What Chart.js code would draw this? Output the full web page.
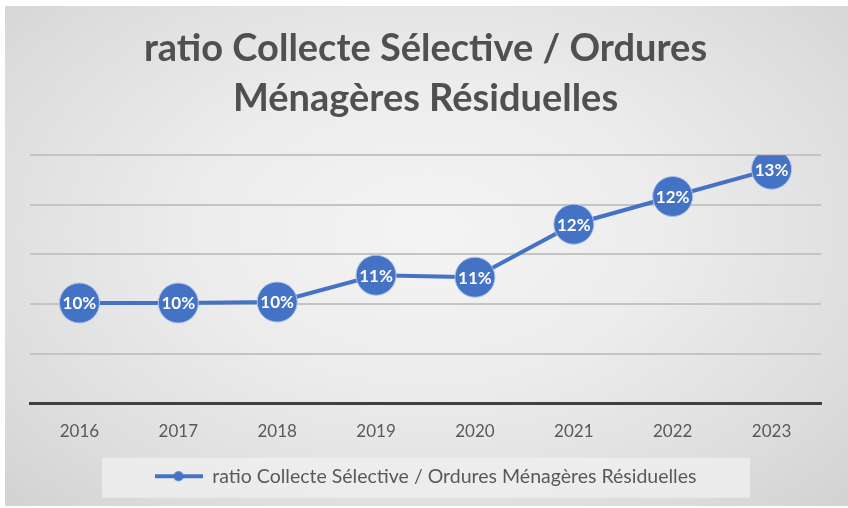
<!DOCTYPE html>
<html>
<head>
<meta charset="utf-8">
<script src="https://cdn.jsdelivr.net/npm/chart.js@4"></script>
<style>
	html, body { margin: 0; padding: 0; background: #ffffff; }
	#wrap {
		position: absolute;
		left: 5px;
		top: 6px;
		width: 843px;
		height: 500px;
		background: radial-gradient(ellipse at 50% 45%, #f4f4f4 0%, #ececec 40%, #dcdcdc 80%, #d2d2d2 100%);
	}
</style>
</head>
<body>
<div id="wrap"><canvas id="ratioChart"></canvas></div>
<script>
// Values (percent)
const years  = ['2016', '2017', '2018', '2019', '2020', '2021', '2022', '2023'];
const ratios = [10.02, 10.02, 10.04, 10.58, 10.54, 11.61, 12.17, 12.72];
const seriesName = 'ratio Collecte Sélective / Ordures Ménagères Résiduelles';
const titleLines = ['ratio Collecte Sélective / Ordures', 'Ménagères Résiduelles'];

const blue = '#4472C4';
const fontName = 'Lato, "Open Sans", sans-serif';
const legendSize = 19.5;

// Excel style legend marker: a line with a dot in the middle
function legendMarker() {
	let c = document.createElement('canvas');
	c.width = 48;
	c.height = 12;
	let ctx = c.getContext('2d');
	ctx.strokeStyle = blue;
	ctx.lineWidth = 4;
	ctx.beginPath();
	ctx.moveTo(0, 6);
	ctx.lineTo(48, 6);
	ctx.stroke();
	ctx.fillStyle = blue;
	ctx.beginPath();
	ctx.arc(24, 6, 5, 0, Math.PI * 2);
	ctx.fill();
	return c;
}

// Draw a light box behind the legend
const legendBox = {
	id: 'legendBox',
	beforeDraw(chart) {
		let lg = chart.legend;
		if (!lg) return;
		let ctx = chart.ctx;
		let cy = lg.bottom - 10 - legendSize / 2 + 1.5;
		ctx.save();
		ctx.fillStyle = 'rgba(240,240,240,0.75)';
		ctx.fillRect(97, cy - 20, 648, 40);
		ctx.restore();
	}
};

// Percent labels inside the markers
const pointLabels = {
	id: 'pointLabels',
	afterDatasetsDraw(chart) {
		let ctx = chart.ctx;
		let meta = chart.getDatasetMeta(0);
		ctx.save();
		ctx.fillStyle = '#ffffff';
		ctx.font = 'bold 17px ' + fontName;
		ctx.textAlign = 'center';
		ctx.textBaseline = 'middle';
		meta.data.forEach((pt, i) => {
			ctx.fillText(Math.round(ratios[i]) + '%', pt.x, pt.y + 1);
		});
		ctx.restore();
	}
};

let ctx = document.getElementById('ratioChart');
let chart = new Chart(ctx, {
	type: 'line',
	data: {
		labels: years,
		datasets: [{
			label: seriesName,
			data: ratios,
			borderColor: blue,
			borderWidth: 4,
			pointRadius: 20,
			pointHoverRadius: 20,
			pointBackgroundColor: blue,
			pointBorderColor: '#a9c2ea',
			pointBorderWidth: 1,
			tension: 0,
		}],
	},
	options: {
		maintainAspectRatio: false,
		responsive: true,
		animation: false,
		layout: {
			padding: { left: 25, right: 27, top: 14, bottom: 10 },
		},
		plugins: {
			tooltip: { enabled: false },
			title: {
				display: true,
				text: titleLines,
				color: '#505050',
				font: { family: fontName, size: 38, weight: 'bold', lineHeight: 1.32 },
				padding: { top: 4, bottom: 31 },
			},
			legend: {
				position: 'bottom',
				labels: {
					color: '#595959',
					font: { family: fontName, size: legendSize },
					usePointStyle: true,
					pointStyleWidth: 48,
					padding: 15,
					generateLabels(chart) {
						let items = Chart.defaults.plugins.legend.labels.generateLabels(chart);
						items.forEach(it => { it.pointStyle = legendMarker(); });
						return items;
					},
				},
			},
		},
		scales: {
			x: {
				offset: true,
				grid: { display: false },
				border: { display: true, color: '#404040', width: 3 },
				ticks: {
					color: '#595959',
					font: { family: fontName, size: 17 },
					padding: 10,
				},
			},
			y: {
				min: 8,
				max: 13,
				ticks: { display: false, stepSize: 1 },
				border: { display: false },
				grid: { color: '#c4c4c4', lineWidth: 2, drawTicks: false },
			},
		},
	},
	plugins: [legendBox, pointLabels],
});
</script>
</body>
</html>
